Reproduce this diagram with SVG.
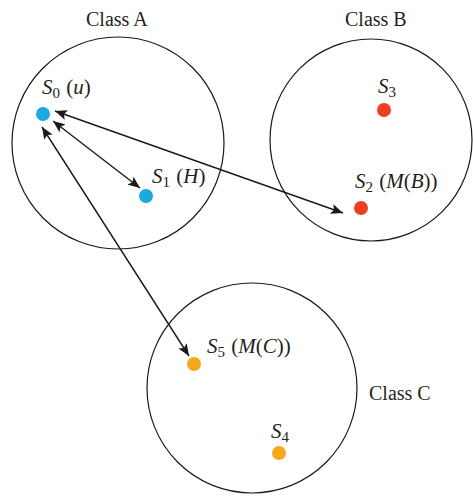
<svg xmlns="http://www.w3.org/2000/svg" width="473" height="497" viewBox="0 0 473 497">
<style>
.cls{fill:none;stroke:#1a1a1a;stroke-width:1.2}
.lbl{font-family:"Liberation Serif","DejaVu Serif",serif;font-size:20px;fill:#231f20}
.s{font-family:"Liberation Serif","DejaVu Serif",serif;font-size:21px;fill:#231f20}
.i{font-style:italic}
.conn{stroke:#1a1a1a;stroke-width:1.4;fill:none;marker-start:url(#ah);marker-end:url(#ah)}
.blue{fill:#1aa9e0}.red{fill:#ee3f24}.orange{fill:#f6a81d}
</style>
<defs>
<marker id="ah" viewBox="0 0 12 10" refX="12" refY="5" markerWidth="12" markerHeight="10" markerUnits="userSpaceOnUse" orient="auto-start-reverse">
<path d="M0,0 L12,5 L0,10 L2.5,5 z" fill="#1a1a1a"/>
</marker>
</defs>
<g id="classA">
<circle class="cls" cx="118" cy="143" r="106"/>
<text class="lbl" x="86" y="26">Class A</text>
</g>
<g id="classB">
<circle class="cls" cx="371" cy="140" r="101"/>
<text class="lbl" x="345" y="26">Class B</text>
</g>
<g id="classC">
<circle class="cls" cx="252" cy="388" r="105"/>
<text class="lbl" x="369" y="400">Class C</text>
</g>
<g id="connectors">
<line class="conn" x1="53" y1="121" x2="140" y2="188"/>
<line class="conn" x1="55" y1="111" x2="343" y2="213"/>
<line class="conn" x1="42" y1="127" x2="189" y2="356"/>
</g>
<g id="S0">
<circle class="blue" cx="43" cy="114" r="7"/>
<text class="s" x="42" y="94"><tspan class="i">S</tspan><tspan font-size="15" dy="4">0</tspan><tspan dy="-4" dx="1"> (</tspan><tspan class="i">u</tspan>)</text>
</g>
<g id="S1">
<circle class="blue" cx="146" cy="196" r="7"/>
<text class="s" x="152" y="183"><tspan class="i">S</tspan><tspan font-size="15" dy="4">1</tspan><tspan dy="-4" dx="1"> (</tspan><tspan class="i">H</tspan>)</text>
</g>
<g id="S2">
<circle class="red" cx="361" cy="208" r="7"/>
<text class="s" x="355" y="188"><tspan class="i">S</tspan><tspan font-size="15" dy="4">2</tspan><tspan dy="-4" dx="1"> (</tspan><tspan class="i">M</tspan>(<tspan class="i">B</tspan>))</text>
</g>
<g id="S3">
<circle class="red" cx="384" cy="110" r="7"/>
<text class="s" x="378" y="93"><tspan class="i">S</tspan><tspan font-size="15" dy="4">3</tspan></text>
</g>
<g id="S4">
<circle class="orange" cx="279" cy="453" r="7"/>
<text class="s" x="271" y="438"><tspan class="i">S</tspan><tspan font-size="15" dy="4">4</tspan></text>
</g>
<g id="S5">
<circle class="orange" cx="194" cy="364" r="7"/>
<text class="s" x="207" y="353"><tspan class="i">S</tspan><tspan font-size="15" dy="4">5</tspan><tspan dy="-4" dx="1"> (</tspan><tspan class="i">M</tspan>(<tspan class="i">C</tspan>))</text>
</g>
</svg>
